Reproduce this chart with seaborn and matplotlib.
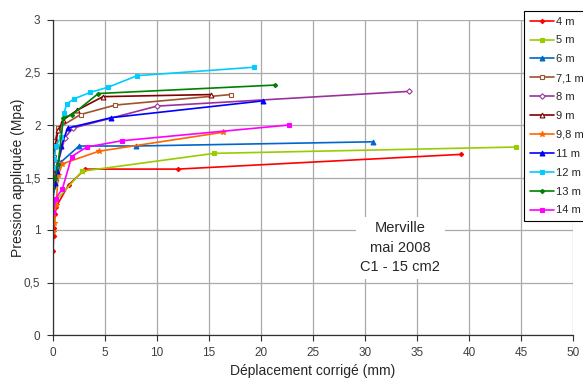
import numpy as np
import pandas as pd
import matplotlib
matplotlib.use("Agg")
import matplotlib.pyplot as plt
from matplotlib.ticker import FuncFormatter, MultipleLocator
import seaborn as sns

# Data (displacement mm, pressure MPa)
x_4m = [0.0, 0.05, 0.1, 0.2, 0.3, 1.5, 3.1, 12.0, 39.2]
y_4m = [0.80, 0.94, 1.02, 1.15, 1.22, 1.43, 1.58, 1.58, 1.72]
x_5m = [0.0, 0.1, 2.8, 15.5, 44.5]
y_5m = [1.08, 1.26, 1.56, 1.73, 1.79]
x_6m = [0.0, 0.3, 0.8, 2.5, 8.0, 30.8]
y_6m = [1.30, 1.50, 1.65, 1.80, 1.80, 1.84]
x_71m = [0.0, 0.1, 0.2, 0.5, 2.65, 6.0, 17.1]
y_71m = [1.50, 1.70, 1.85, 1.97, 2.10, 2.19, 2.29]
x_8m = [0.0, 0.5, 1.15, 1.9, 10.0, 34.2]
y_8m = [1.45, 1.65, 1.88, 1.97, 2.18, 2.32]
x_9m = [0.0, 0.2, 0.5, 1.0, 2.3, 4.8, 15.2]
y_9m = [1.55, 1.80, 1.95, 2.05, 2.14, 2.27, 2.29]
x_98m = [0.0, 0.1, 0.3, 0.5, 0.9, 4.4, 16.3]
y_98m = [0.98, 1.07, 1.24, 1.52, 1.63, 1.75, 1.93]
x_11m = [0.0, 0.2, 0.35, 0.8, 1.4, 5.6, 20.2]
y_11m = [1.43, 1.45, 1.56, 1.80, 1.97, 2.07, 2.23]
x_12m = [0.0, 0.1, 0.3, 0.77, 1.06, 1.3, 2.05, 3.56, 5.3, 8.1, 19.3]
y_12m = [1.60, 1.68, 1.80, 1.89, 2.11, 2.20, 2.25, 2.31, 2.36, 2.47, 2.55]
x_13m = [0.0, 0.2, 0.5, 1.0, 1.86, 4.36, 21.3]
y_13m = [1.40, 1.50, 1.63, 2.07, 2.10, 2.30, 2.38]
x_14m = [0.03, 0.26, 0.9, 1.8, 3.24, 6.6, 22.7]
y_14m = [1.17, 1.30, 1.39, 1.70, 1.79, 1.85, 2.00]

labels = ['4 m', '5 m', '6 m', '7,1 m', '8 m', '9 m', '9,8 m', '11 m', '12 m', '13 m', '14 m']
xs = [x_4m, x_5m, x_6m, x_71m, x_8m, x_9m, x_98m, x_11m, x_12m, x_13m, x_14m]
ys = [y_4m, y_5m, y_6m, y_71m, y_8m, y_9m, y_98m, y_11m, y_12m, y_13m, y_14m]

colors = ['#FF0000', '#99CC00', '#0066CC', '#A0522D', '#993399', '#800000',
          '#FF6600', '#0000FF', '#00CCFF', '#008000', '#FF00FF']
markers = ['D', 's', '^', 's', 'D', '^', '*', '^', 's', 'D', 's']
msizes = [2.2, 3.5, 3.5, 3.5, 2.8, 3.5, 4, 3.5, 3.5, 2.2, 3.5]
open_marker = [False, False, False, True, True, True, False, False, False, False, False]

sns.set_style("whitegrid")
plt.rcParams['font.family'] = ['Liberation Sans', 'DejaVu Sans']

fig = plt.figure(figsize=(5.83, 3.81), dpi=100)
ax = fig.add_axes([53 / 583, 1 - 335 / 381, 520 / 583, 315 / 381])

for lab, xv, yv, c, m, ms, op in zip(labels, xs, ys, colors, markers, msizes, open_marker):
    df = pd.DataFrame({'x': xv, 'y': yv})
    sns.lineplot(data=df, x='x', y='y', ax=ax, color=c, marker=m, markersize=ms,
                 markeredgecolor=c, markerfacecolor='white' if op else c,
                 markeredgewidth=0.8, linewidth=1.2, sort=False, estimator=None,
                 label=lab)

ax.set_xlim(0, 50)
ax.set_ylim(0, 3)
ax.xaxis.set_major_locator(MultipleLocator(5))
ax.yaxis.set_major_locator(MultipleLocator(0.5))
ax.yaxis.set_major_formatter(FuncFormatter(lambda v, p: ('%g' % v).replace('.', ',')))
ax.grid(True, color='#AAAAAA', linewidth=0.9)
for s in ['top', 'right']:
    ax.spines[s].set_visible(False)
for s in ['left', 'bottom']:
    ax.spines[s].set_color('#303030')
    ax.spines[s].set_linewidth(0.9)
ax.tick_params(axis='both', which='major', length=4, width=0.8, color='#303030',
               labelsize=8.5, labelcolor='#404040', bottom=True, left=True, pad=5)
ax.set_xlabel('Déplacement corrigé (mm)', fontsize=10)
ax.set_ylabel('Pression appliquée (Mpa)', fontsize=10)
ax.xaxis.set_label_coords(0.5, -0.092)
ax.yaxis.set_label_coords(-0.053, 0.5)
ax.set_facecolor('white')

ax.text(33.4, 0.83, 'Merville\nmai 2008\nC1 - 15 cm2', ha='center', va='center',
        fontsize=10.5, linespacing=1.5,
        bbox=dict(facecolor='white', edgecolor='none', pad=3))

leg = ax.legend(loc='upper left', bbox_to_anchor=(524 / 583, 1 - 11 / 381),
                bbox_transform=fig.transFigure, fontsize=8, frameon=True,
                fancybox=False, edgecolor='black', framealpha=1,
                handlelength=2.2, handletextpad=0.2, labelspacing=0.8,
                borderpad=0.5, borderaxespad=0)
leg.get_frame().set_linewidth(0.8)

fig.savefig('out.png', dpi=100)
